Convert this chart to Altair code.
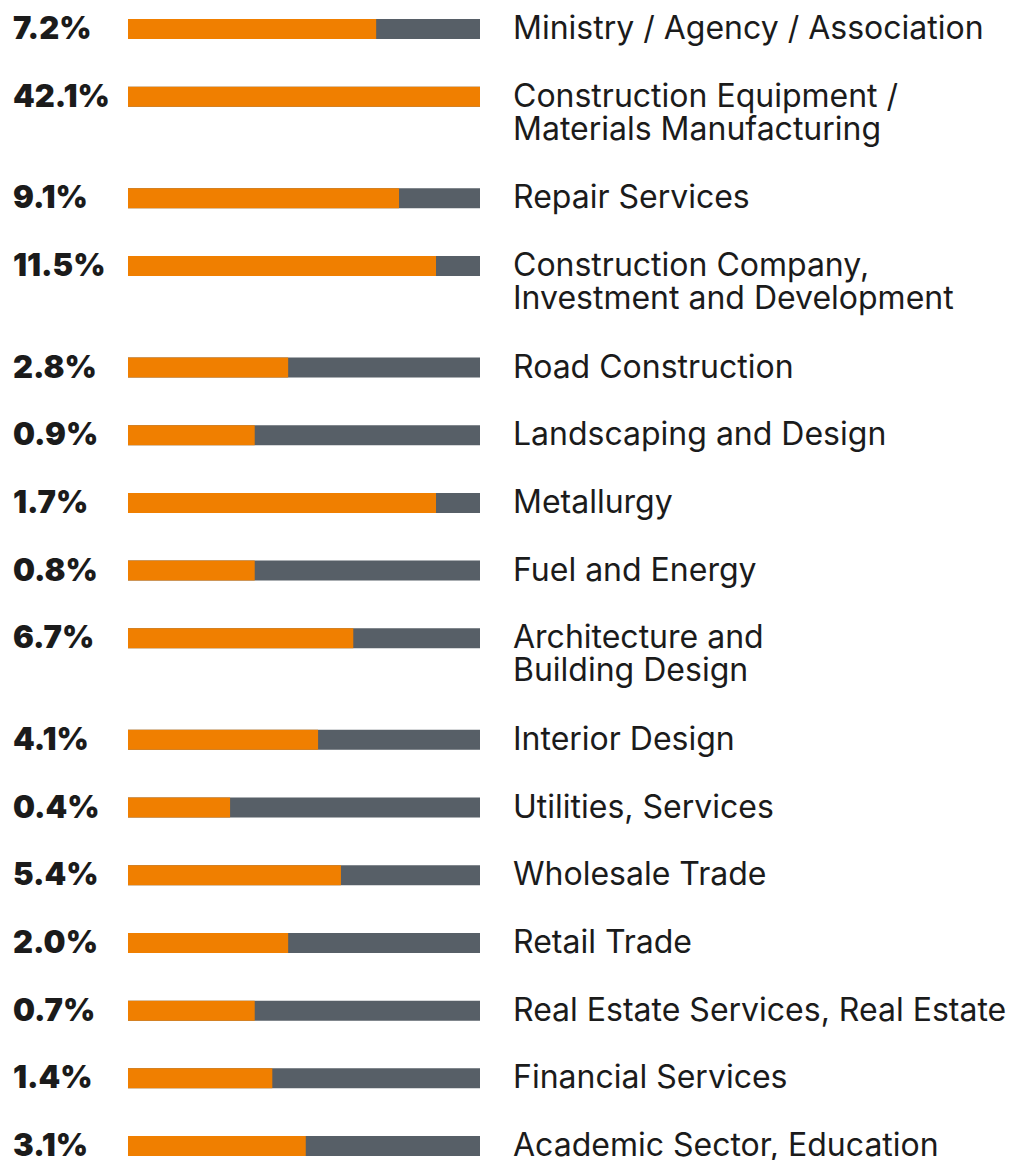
import altair as alt
import pandas as pd

categories = [
    "Ministry / Agency / Association",
    "Construction Equipment /\nMaterials Manufacturing",
    "Repair Services",
    "Construction Company,\nInvestment and Development",
    "Road Construction",
    "Landscaping and Design",
    "Metallurgy",
    "Fuel and Energy",
    "Architecture and\nBuilding Design",
    "Interior Design",
    "Utilities, Services",
    "Wholesale Trade",
    "Retail Trade",
    "Real Estate Services, Real Estate",
    "Financial Services",
    "Academic Sector, Education",
]
percent = [7.2, 42.1, 9.1, 11.5, 2.8, 0.9, 1.7, 0.8, 6.7, 4.1, 0.4, 5.4, 2.0, 0.7, 1.4, 3.1]
orange_share = [0.705, 1.0, 0.77, 0.875, 0.455, 0.36, 0.875, 0.36, 0.64, 0.54,
                0.29, 0.605, 0.455, 0.36, 0.41, 0.505]

ORANGE = "#F07F00"
GRAY = "#575F67"
TEXT = "#1b1b1b"

H = 1152
ROW_STEP = 67.7
LINE_GAP = 33
FIRST = 21

rows, lines_rows = [], []
pos = FIRST
for i, (cat, p, s) in enumerate(zip(categories, percent, orange_share)):
    parts = cat.split("\n")
    rows.append(dict(idx=i, pos=pos, pct=f"{p:.1f}%", share=s, start=0.0, end=1.0))
    for j, t in enumerate(parts):
        lines_rows.append(dict(idx=i, pos=pos + j * LINE_GAP, text=t, end=1.0))
    pos += ROW_STEP * (1 + 0.5 * (len(parts) - 1))

df = pd.DataFrame(rows)
dl = pd.DataFrame(lines_rows)

xs = alt.Scale(domain=[0, 1], nice=False, zero=False)
ys = alt.Scale(domain=[0, H], reverse=True, nice=False, zero=False)
Y = alt.Y("pos:Q", scale=ys, axis=None)
X = alt.X("start:Q", scale=xs, axis=None)

bg = alt.Chart(df).mark_rule(strokeWidth=20, color=GRAY, strokeCap="butt").encode(
    x=X, x2="end:Q", y=Y
)
fg = alt.Chart(df).mark_rule(strokeWidth=20, color=ORANGE, strokeCap="butt").encode(
    x=X, x2="share:Q", y=Y
)
pct = alt.Chart(df).mark_text(
    align="left", baseline="alphabetic", dx=-115, dy=10, fontSize=31, fontWeight=900,
    font="Inter", color=TEXT
).encode(x=X, y=Y, text="pct:N")
lab = alt.Chart(dl).mark_text(
    align="left", baseline="alphabetic", dx=33, dy=10, fontSize=32,
    font="Inter", color=TEXT
).encode(x=alt.X("end:Q", scale=xs, axis=None), y=Y, text="text:N")

chart = alt.layer(bg, fg, pct, lab).properties(
    width=352, height=H,
    padding={"left": 120, "top": 0, "right": 526, "bottom": 0},
    autosize=alt.AutoSizeParams(type="none"),
).configure_view(stroke=None)

chart.save("out.html", embed_options={"renderer": "svg", "actions": False})
